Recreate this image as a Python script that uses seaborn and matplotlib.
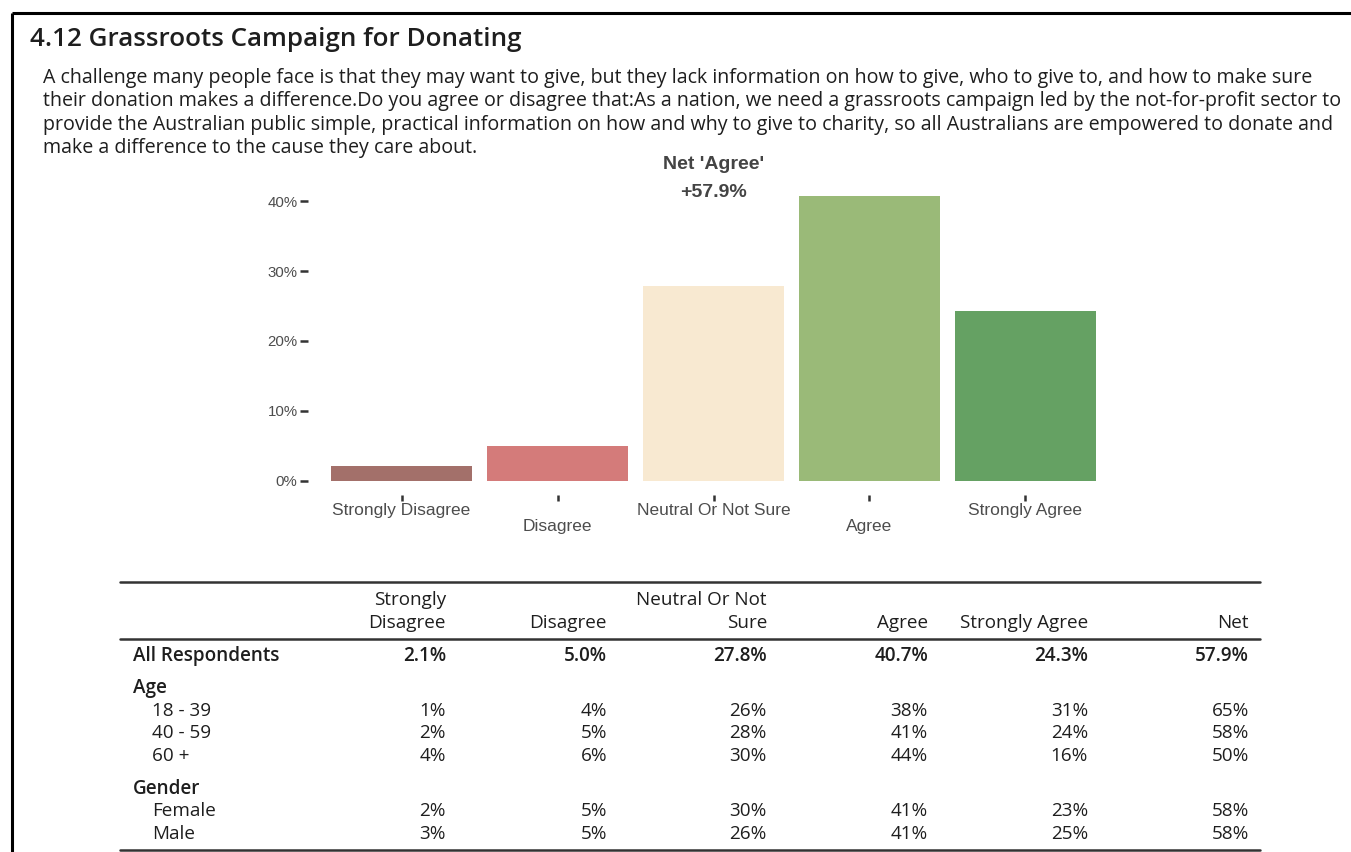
import matplotlib
matplotlib.use("Agg")
import matplotlib.pyplot as plt
import seaborn as sns
import pandas as pd
from matplotlib.ticker import FuncFormatter

# survey answers
categories = ["Strongly Disagree", "Disagree", "Neutral Or Not Sure", "Agree", "Strongly Agree"]
all_resp = [2.1, 5.0, 27.8, 40.7, 24.3]
net_all = 57.9
bar_colors = ["#A3706A", "#D47B7A", "#F8E9D1", "#9ABA78", "#65A163"]

# breakdown table
header_top = ["Strongly", "", "Neutral Or Not", "", "", ""]
header_bottom = ["Disagree", "Disagree", "Sure", "Agree", "Strongly Agree", "Net"]
age_groups = ["18 - 39", "40 - 59", "60 +"]
age_values = [[1, 4, 26, 38, 31, 65],
              [2, 5, 28, 41, 24, 58],
              [4, 6, 30, 44, 16, 50]]
gender_groups = ["Female", "Male"]
gender_values = [[2, 5, 30, 41, 23, 58],
                 [3, 5, 26, 41, 25, 58]]

title = "4.12 Grassroots Campaign for Donating"
question = ("A challenge many people face is that they may want to give, but they lack information on how to give, who to give to, and how to make sure\n"
            "their donation makes a difference.Do you agree or disagree that:As a nation, we need a grassroots campaign led by the not-for-profit sector to\n"
            "provide the Australian public simple, practical information on how and why to give to charity, so all Australians are empowered to donate and\n"
            "make a difference to the cause they care about.")

sns.set_style("white")
plt.rcParams['font.family'] = ['Open Sans', 'DejaVu Sans']

W, H = 1351, 852
fig = plt.figure(figsize=(W / 100, H / 100), dpi=100)

# page layer in pixel coords
bg = fig.add_axes([0, 0, 1, 1])
bg.set_xlim(0, W)
bg.set_ylim(H, 0)
bg.axis("off")
bg.plot([12, W], [13, 13], color="black", lw=2.2, solid_capstyle="butt")
bg.plot([12, 12], [13, H], color="black", lw=2.2, solid_capstyle="butt")

txt = "#1e1e1e"
bg.text(30, 39, title, fontsize=18.7, fontweight="semibold", color=txt, va="center", ha="left")
for i, line in enumerate(question.split("\n")):
    bg.text(43, 78 + i * 23.4, line, fontsize=14.1, color=txt, va="center", ha="left")

# bar chart
ax = fig.add_axes([308 / W, 1 - 495 / H, 811 / W, 313 / H])
df = pd.DataFrame({"answer": categories, "pct": all_resp})
sns.barplot(data=df, x="answer", y="pct", hue="answer", palette=bar_colors,
            order=categories, hue_order=categories, width=0.9, legend=False,
            saturation=1, linewidth=0, ax=ax)
ax.set_xlim(-0.6, 4.6)
ax.set_ylim(-0.05 * max(all_resp), max(all_resp) * 1.05)
for s in ax.spines.values():
    s.set_visible(False)
ax.set_facecolor("none")
ax.set_xlabel("")
ax.set_ylabel("")
ax.set_yticks([0, 10, 20, 30, 40])
ax.yaxis.set_major_formatter(FuncFormatter(lambda v, p: f"{v:.0f}%"))
ax.tick_params(axis="y", left=True, length=6, width=1.8, color="#333333", pad=1.5,
               labelsize=10.8, labelcolor="#4d4d4d")
ax.tick_params(axis="x", bottom=True, length=4, width=1.8, color="#333333", pad=2,
               labelsize=12.5, labelcolor="#4d4d4d")
ax.set_xticks(range(len(categories)))
ax.set_xticklabels([c if i % 2 == 0 else "\n" + c for i, c in enumerate(categories)])
for lbl in ax.get_xticklabels() + ax.get_yticklabels():
    lbl.set_family(["Liberation Sans", "DejaVu Sans"])
for lbl in ax.get_xticklabels():
    lbl.set_linespacing(1.08)

net_x = categories.index("Neutral Or Not Sure")
ax.text(net_x, 45.2, "Net 'Agree'", ha="center", va="center", fontsize=14, fontweight="bold",
        color="#444444", family=["Liberation Sans", "DejaVu Sans"], clip_on=False)
ax.text(net_x, 41.3, f"+{net_all}%", ha="center", va="center", fontsize=14, fontweight="bold",
        color="#444444", family=["Liberation Sans", "DejaVu Sans"], clip_on=False)

# table
line_c = "#333333"
bg.plot([120, 1260], [582, 582], color=line_c, lw=1.8)
bg.plot([120, 1260], [639, 639], color=line_c, lw=1.8)
bg.plot([120, 1260], [850, 850], color=line_c, lw=1.8)

col_right = [446, 607, 767, 928, 1088, 1249]
fs = 13.6
for xr, h1, h2 in zip(col_right, header_top, header_bottom):
    bg.text(xr, 600, h1, ha="right", va="center", fontsize=fs, color=txt)
    bg.text(xr, 623, h2, ha="right", va="center", fontsize=fs, color=txt)

bg.text(133, 656, "All Respondents", fontsize=fs, fontweight="semibold", color=txt, va="center")
for xr, v in zip(col_right, all_resp + [net_all]):
    bg.text(xr, 656, f"{v:.1f}%", ha="right", va="center", fontsize=fs, fontweight="semibold", color=txt)

bg.text(133, 688, "Age", fontsize=fs, fontweight="semibold", color=txt, va="center")
for yy, g, vals in zip([711, 733, 756], age_groups, age_values):
    bg.text(152, yy, g, fontsize=fs, color=txt, va="center")
    for xr, v in zip(col_right, vals):
        bg.text(xr, yy, f"{v}%", ha="right", va="center", fontsize=fs, color=txt)

bg.text(133, 789, "Gender", fontsize=fs, fontweight="semibold", color=txt, va="center")
for yy, g, vals in zip([811, 834], gender_groups, gender_values):
    bg.text(152, yy, g, fontsize=fs, color=txt, va="center")
    for xr, v in zip(col_right, vals):
        bg.text(xr, yy, f"{v}%", ha="right", va="center", fontsize=fs, color=txt)

fig.savefig("out.png", dpi=100)
